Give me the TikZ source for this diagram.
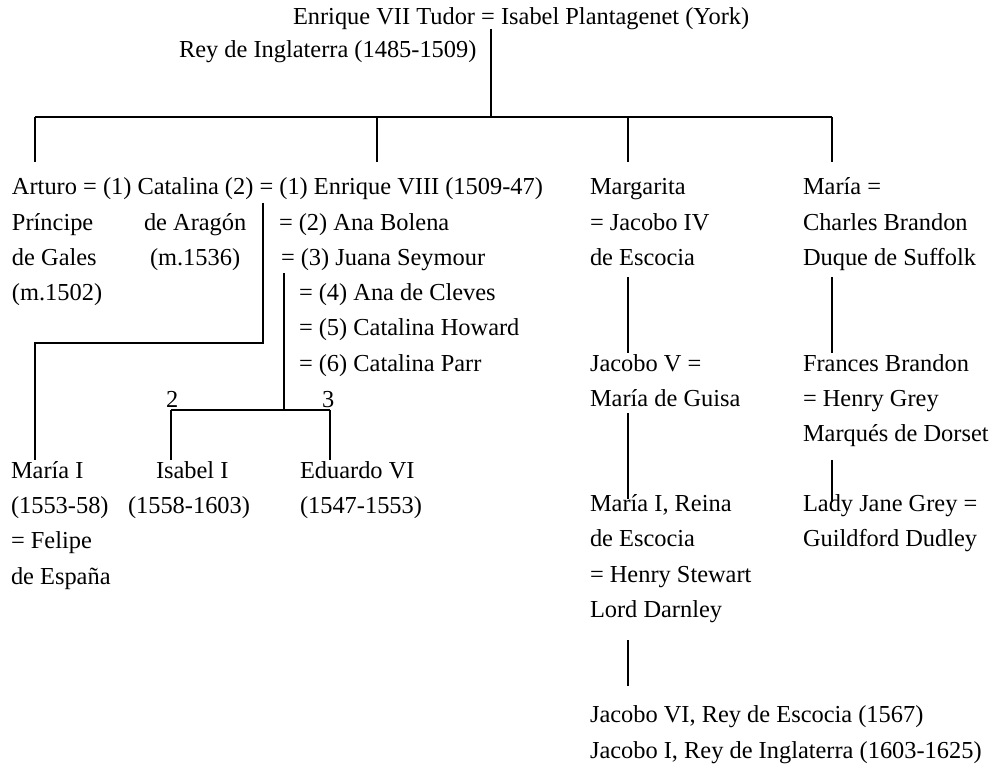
\documentclass[tikz,border=0pt]{standalone}
\usepackage{fontspec}
\setmainfont{Liberation Serif}
\begin{document}
\begin{tikzpicture}[x=1pt,y=-1pt,
  txt/.style={anchor=base west, inner sep=0pt, outer sep=0pt},
  ln/.style={draw=black, line width=1.2pt},
  font=\fontsize{24.4}{35}\selectfont]
\useasboundingbox[fill=white] (0,0) rectangle (995,767);
% title
\node[txt] (t1) at (293,25) {Enrique VII Tudor};
\node[txt] (teq) at ([xshift=6.1pt]t1.base east) {=};
\node[txt] (t2) at ([xshift=6.1pt]teq.base east) {Isabel Plantagenet (York)};
\node[txt] (t3) at (179,58) {Rey de Inglaterra (1485-1509)};
% main bar
\coordinate (tb) at (491,29);
\coordinate (hl) at (35,117);
\coordinate (hr) at (832,117);
\coordinate (hb) at (491,117);
\coordinate (hm1) at (377,117);
\coordinate (hm2) at (628,117);
\draw[ln] (tb) -- (hb);
\draw[ln] (hl) -- (hr);
\coordinate (d1) at (35,162);
\coordinate (d2) at (377,162);
\coordinate (d3) at (628,162);
\coordinate (d4) at (832,162);
\draw[ln] (hl) -- (d1);
\draw[ln] (hm1) -- (d2);
\draw[ln] (hm2) -- (d3);
\draw[ln] (hr) -- (d4);
% left block
\node[txt] (r1a) at (12,195) {Arturo = (1) Catalina (2)};
\node[txt] (r1eq) at ([xshift=6.1pt]r1a.base east) {=};
\node[txt] (r1b) at ([xshift=6.1pt]r1eq.base east) {(1) Enrique VIII (1509-47)};
\node[txt] (pr) at (12,230.2) {Príncipe};
\node[txt] (ar) at (144,230.2) {de Aragón};
\node[txt] (r2) at (279,230.2) {= (2) Ana Bolena};
\node[txt] (ga) at (12,265.4) {de Gales};
\node[txt] (m36) at (150,265.4) {(m.1536)};
\node[txt] (r3eq) at (281,265.4) {=};
\node[txt] (r3b) at ([xshift=6.1pt]r3eq.base east) {(3) Juana Seymour};
\node[txt] (m02) at (12,300.6) {(m.1502)};
\node[txt] (r4) at (299,300.6) {= (4) Ana de Cleves};
\node[txt] (r5) at (299,335.8) {= (5) Catalina Howard};
\node[txt] (r6) at (299,371) {= (6) Catalina Parr};
\node[txt] (n2) at (166,407) {2};
\node[txt] (n3) at (322,407) {3};
\node[txt] (ma1) at (11,478.5) {María I};
\node[txt] (ma2) at (11,513.7) {(1553-58)};
\node[txt] (ma3) at (11,548.9) {= Felipe};
\node[txt] (ma4) at (11,584.1) {de España};
\node[txt] (is1) at (156,478.5) {Isabel I};
\node[txt] (is2) at (128,513.7) {(1558-1603)};
\node[txt] (ed1) at (300,478.5) {Eduardo VI};
\node[txt] (ed2) at (300,513.7) {(1547-1553)};
% Catalina -> Maria I
\coordinate (c1) at (263,203);
\coordinate (c2) at (263,343);
\coordinate (c3) at (35,343);
\coordinate (c4) at (35,460);
\draw[ln] (c1) -- (c2) -- (c3) -- (c4);
% Juana -> Isabel, Eduardo
\coordinate (j1) at (284,273);
\coordinate (j2) at (284,410);
\coordinate (jl) at (171,410);
\coordinate (jr) at (330,410);
\coordinate (jl2) at (171,460);
\coordinate (jr2) at (330,460);
\draw[ln] (j1) -- (j2);
\draw[ln] (jl) -- (jr);
\draw[ln] (jl) -- (jl2);
\draw[ln] (jr) -- (jr2);
% Margarita column
\node[txt] (g1) at (590,195) {Margarita};
\node[txt] (g2) at (590,230.2) {= Jacobo IV};
\node[txt] (g3) at (590,265.4) {de Escocia};
\node[txt] (g4) at (590,371) {Jacobo V =};
\node[txt] (g5) at (590,406.1) {María de Guisa};
\node[txt] (g6) at (590,511.7) {María I, Reina};
\node[txt] (g7) at (590,546.9) {de Escocia};
\node[txt] (g8) at (590,582.1) {= Henry Stewart};
\node[txt] (g9) at (590,617.3) {Lord Darnley};
\node[txt] (g10) at (590,722.9) {Jacobo VI, Rey de Escocia (1567)};
\node[txt] (g11) at (590,758) {Jacobo I, Rey de Inglaterra (1603-1625)};
\coordinate (ga1) at (628,277);
\coordinate (ga2) at (628,353);
\coordinate (gb1) at (628,413);
\coordinate (gb2) at (628,499);
\coordinate (gc1) at (628,640);
\coordinate (gc2) at (628,686);
\draw[ln] (ga1) -- (ga2);
\draw[ln] (gb1) -- (gb2);
\draw[ln] (gc1) -- (gc2);
% Maria column
\node[txt] (b1) at (803,195) {María =};
\node[txt] (b2) at (803,230.2) {Charles Brandon};
\node[txt] (b3) at (803,265.4) {Duque de Suffolk};
\node[txt] (b4) at (803,371) {Frances Brandon};
\node[txt] (b5) at (803,406.1) {= Henry Grey};
\node[txt] (b6) at (803,441.3) {Marqués de Dorset};
\node[txt] (b7) at (803,511.7) {Lady Jane Grey =};
\node[txt] (b8) at (803,546.9) {Guildford Dudley};
\coordinate (ba1) at (832,277);
\coordinate (ba2) at (832,353);
\coordinate (bb1) at (832,460);
\coordinate (bb2) at (832,502);
\draw[ln] (ba1) -- (ba2);
\draw[ln] (bb1) -- (bb2);
\end{tikzpicture}
\end{document}
